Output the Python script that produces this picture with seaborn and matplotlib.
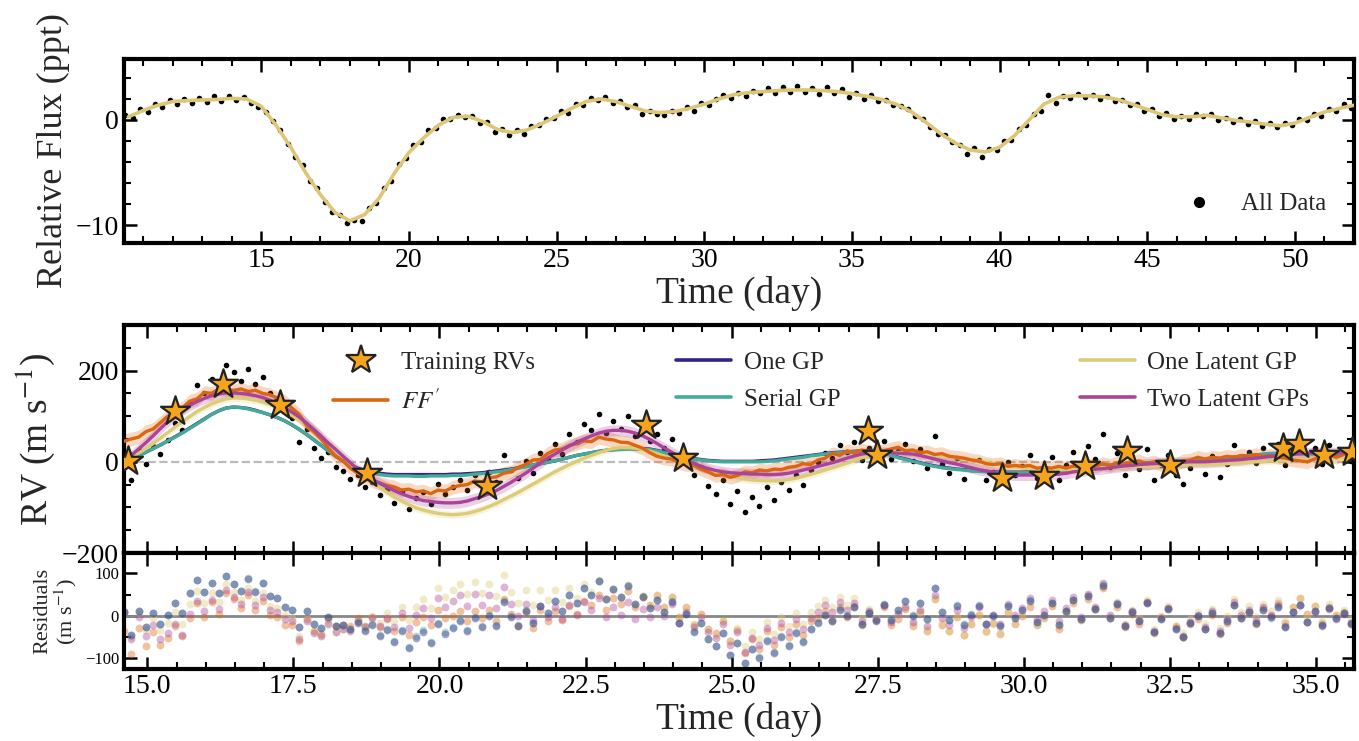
import numpy as np
import matplotlib
matplotlib.use("Agg")
import matplotlib.pyplot as plt
from matplotlib.ticker import MultipleLocator, FormatStrFormatter
from matplotlib.lines import Line2D
import seaborn as sns

# ---------------------------------------------------------------- data
# Photometry: relative flux (ppt), sampled every 0.25 d from day 10.4
flux_start, flux_step = 10.4, 0.25
flux_obs = [
    0.5, 0.2, 1.0, 0.8, 1.5, 1.2, 1.9, 1.5, 2.0, 1.6, 2.1, 1.7, 2.3, 1.8, 2.3, 1.9,
    2.2, 1.6, 1.2, 0.8, -0.1, -1.0, -2.3, -3.5, -4.3, -5.8, -6.5, -7.8, -8.8, -9.0, -9.8, -9.5,
    -9.6, -8.4, -7.9, -6.5, -5.8, -4.2, -3.6, -2.4, -2.1, -1.0, -0.8, 0.1, 0.1, 0.5, 0.3, 0.4,
    -0.3, -0.2, -1.1, -0.9, -1.4, -1.0, -1.3, -0.6, -0.5, 0.1, 0.2, 0.9, 0.7, 1.5, 1.4, 2.1,
    1.9, 2.2, 1.6, 1.8, 1.2, 1.4, 0.6, 0.9, 0.6, 0.5, 0.9, 0.7, 1.2, 0.9, 1.6, 1.4,
    2.0, 2.4, 2.1, 2.6, 2.3, 2.8, 2.6, 3.0, 2.6, 3.1, 2.7, 3.2, 2.7, 3.0, 2.5, 3.1,
    2.6, 2.9, 2.2, 2.6, 2.0, 2.4, 1.8, 1.9, 1.4, 1.3, 1.0, 0.4, 0.1, -0.7, -1.3, -1.4,
    -2.1, -2.4, -3.2, -2.7, -3.5, -2.8, -2.9, -2.0, -1.9, -0.9, -0.5, 0.6, 0.9, 2.4, 1.6, 2.3,
    2.1, 2.5, 2.2, 2.4, 2.0, 2.3, 1.8, 1.9, 1.4, 1.5, 0.9, 1.0, 0.4, 0.7, 0.1, 0.4,
    0.1, 0.6, 0.4, 0.6, 0.0, 0.2, -0.2, 0.1, -0.4, -0.1, -0.6, -0.3, -0.7, -0.3, -0.5, 0.1,
    0.0, 0.6, 0.4, 1.0, 0.9, 1.5, 1.1,
]
# Photometric GP prediction every 0.5 d from day 10.5
flux_model_start, flux_model_step = 10.5, 0.5
flux_model = [
    0.3, 0.9, 1.4, 1.75, 1.85, 1.9, 1.95, 2.05, 2.0, 1.3, -0.5, -2.6, -5.0, -7.1, -8.8, -9.6,
    -9.0, -7.4, -5.1, -3.1, -1.7, -0.5, 0.25, 0.35, -0.15, -0.9, -1.2, -0.95, -0.35, 0.35, 1.1, 1.75,
    2.0, 1.75, 1.3, 0.85, 0.7, 0.8, 1.1, 1.5, 2.0, 2.4, 2.6, 2.7, 2.8, 2.85, 2.85, 2.8,
    2.7, 2.5, 2.25, 1.95, 1.5, 0.8, -0.2, -1.3, -2.2, -2.85, -3.05, -2.6, -1.5, 0.0, 1.5, 2.15,
    2.3, 2.3, 2.2, 1.95, 1.5, 1.0, 0.5, 0.3, 0.3, 0.45, 0.2, -0.05, -0.2, -0.4, -0.55, -0.3,
    0.25, 0.75, 1.1, 1.4,
]

# Radial velocities (m/s), sampled every 0.125 d from day 14.6 (one row per day)
rv_start, rv_step = 14.6, 0.125
rv_obs = [
    10, -40, 25, -5, 35, 18, 48, 85,
    70, 128, 168, 150, 182, 165, 212, 196,
    178, 204, 170, 186, 150, 138, 112, 96,
    44, 72, 30, 8, 22, -12, -20, -38,
    -30, -55, -44, -72, -60, -90, -64, -104,
    -80, -66, -92, -48, -70, -56, -40, -62,
    -30, -50, -22, -44, 14, -18, -36, 2,
    -24, 20, 6, 38, 18, 60, 44, 82,
    70, 104, 64, 90, 72, 100, 56, 74,
    46, 62, 30, 50, -4, 14, -30, -12,
    -52, -70, -40, -92, -64, -110, -78, -96,
    -56, -84, -44, -62, -30, -50, -18, 0,
    20, 8, 36, 22, 44, 4, 30, 12,
    46, 6, 24, 40, 2, 28, -14, 56,
    -4, -24, 8, -38, -16, 4, -40, -22,
    -46, 0, -28, -10, 14, -36, -18, 10,
    -40, -6, 22, -22, 34, 6, 62, -12,
    20, -30, 4, -16, 28, -40, -8, 16,
    -30, -48, -14, 2, -26, 12, -34, -4,
    36, 8, 22, -2, 30, 14, 40, -8,
    26, 44, 4, 30, -4, 36, 12, 24,
    2,
]
rv_ffprime = [
    45, 50, 54, 66, 72, 86, 100, 108,
    118, 133, 138, 152, 150, 160, 158, 156,
    160, 154, 157, 150, 147, 140, 133, 118,
    104, 80, 66, 50, 30, 12, 2, -14,
    -25, -32, -42, -46, -52, -55, -62, -60,
    -66, -64, -70, -62, -64, -56, -52, -50,
    -42, -44, -35, -33, -25, -22, -12, -6,
    4, 5, 18, 26, 28, 36, 40, 46,
    44, 54, 50, 48, 43, 42, 36, 30,
    20, 12, 8, 6, -2, -6, -8, -16,
    -22, -30, -28, -34, -30, -22, -24, -18,
    -20, -16, -17, -12, -10, -4, -6, 4,
    8, 18, 14, 24, 20, 26, 22, 22,
    24, 28, 32, 24, 26, 20, 22, 16,
    18, 12, 10, 8, 4, 2, -4, -6,
    -4, -10, -8, -10, -8, -14, -12, -14,
    -10, -14, -9, -12, -6, -10, -4, -8,
    -2, -4, 0, 2, -4, 0, -6, -2,
    -6, 2, 4, 10, 6, 10, 8, 12,
    10, 14, 12, 16, 12, 14, 10, 8,
    4, 2, 0, 6, 12, 14, 10, 16,
    20,
]
rv_one_gp = [
    0, 6, 13, 21, 29, 37, 46, 55,
    64, 74, 84, 94, 104, 112, 118, 120,
    119, 117, 113, 108, 103, 97, 90, 81,
    71, 60, 48, 36, 24, 12, 2, -7,
    -14, -19, -22, -25, -27, -28, -28, -28,
    -28, -28, -28, -28, -28, -27, -27, -26,
    -25, -24, -22, -20, -18, -16, -13, -10,
    -7, -4, -1, 2, 6, 10, 14, 17,
    20, 23, 25, 27, 28, 29, 29, 29,
    28, 25, 21, 17, 13, 10, 7, 5,
    3, 2, 1, 1, 1, 1, 1, 2,
    3, 4, 6, 8, 10, 12, 14, 16,
    18, 20, 21, 22, 23, 24, 24, 23,
    20, 15, 10, 6, 2, -2, -6, -9,
    -12, -14, -16, -17, -19, -20, -21, -22,
    -23, -23, -23, -23, -22, -21, -20, -20,
    -19, -17, -15, -14, -12, -11, -9, -8,
    -7, -6, -5, -4, -3, -2, -1, 0,
    1, 1, 2, 3, 4, 5, 6, 8,
    10, 12, 13, 15, 16, 17, 18, 18,
    18, 18, 18, 18, 18, 18, 18, 18,
    18,
]
rv_serial_gp = [
    0, 6, 13, 21, 29, 37, 46, 54,
    63, 73, 83, 93, 104, 112, 118, 120,
    119, 116, 112, 108, 103, 97, 90, 81,
    71, 60, 48, 36, 24, 12, 2, -8,
    -16, -21, -25, -28, -30, -31, -31, -31,
    -32, -32, -31, -31, -31, -30, -30, -29,
    -27, -26, -24, -22, -20, -17, -14, -11,
    -7, -4, -1, 2, 6, 10, 14, 17,
    20, 23, 25, 26, 27, 28, 28, 28,
    27, 24, 20, 16, 12, 9, 6, 4,
    2, 1, 0, 0, 0, 0, 0, 0,
    1, 2, 4, 6, 8, 10, 13, 15,
    17, 19, 20, 21, 22, 23, 23, 22,
    19, 14, 9, 5, 1, -3, -7, -10,
    -13, -15, -17, -18, -20, -21, -22, -23,
    -24, -24, -24, -24, -23, -22, -21, -21,
    -20, -18, -16, -15, -13, -11, -10, -8,
    -7, -6, -5, -4, -3, -2, -1, 0,
    1, 1, 2, 3, 4, 5, 6, 8,
    10, 12, 14, 15, 17, 18, 18, 18,
    18, 18, 18, 18, 18, 18, 18, 18,
    18,
]
rv_one_latent = [
    0, 9, 19, 29, 40, 52, 64, 76,
    88, 99, 110, 119, 127, 133, 138, 140,
    140, 138, 135, 131, 126, 119, 111, 102,
    91, 79, 66, 53, 39, 25, 10, -4,
    -18, -31, -44, -56, -67, -77, -86, -94,
    -101, -106, -110, -113, -115, -116, -115, -113,
    -109, -104, -98, -91, -83, -75, -67, -58,
    -49, -40, -31, -22, -14, -6, 1, 8,
    14, 20, 25, 29, 31, 31, 30, 27,
    23, 18, 12, 6, 0, -5, -10, -15,
    -20, -24, -28, -32, -35, -38, -40, -41,
    -42, -42, -41, -39, -36, -32, -28, -23,
    -18, -13, -8, -3, 3, 9, 14, 17,
    19, 20, 20, 20, 19, 18, 17, 15,
    13, 11, 9, 7, 4, 2, -1, -4,
    -7, -9, -11, -13, -15, -16, -17, -17,
    -17, -17, -16, -15, -14, -13, -13, -12,
    -12, -11, -10, -10, -9, -9, -8, -8,
    -7, -7, -6, -6, -6, -5, -5, -4,
    -3, -2, -1, 0, 1, 2, 3, 4,
    5, 5, 6, 7, 8, 8, 9, 9,
    9,
]
rv_two_latent = [
    0, 14, 28, 42, 57, 73, 88, 103,
    114, 124, 132, 139, 145, 149, 151, 151,
    150, 148, 145, 141, 135, 128, 119, 109,
    98, 85, 71, 56, 41, 27, 12, -2,
    -17, -28, -38, -47, -55, -63, -70, -76,
    -81, -85, -87, -89, -90, -90, -89, -86,
    -81, -76, -70, -63, -54, -45, -35, -25,
    -14, -3, 8, 17, 26, 35, 43, 50,
    57, 63, 67, 69, 69, 67, 63, 57,
    49, 40, 30, 21, 12, 4, -3, -10,
    -15, -19, -22, -24, -25, -26, -27, -27,
    -28, -28, -27, -25, -22, -18, -14, -10,
    -6, -2, 3, 8, 13, 17, 19, 20,
    20, 20, 19, 18, 17, 14, 10, 6,
    2, -2, -5, -9, -13, -17, -20, -23,
    -26, -28, -29, -29, -29, -29, -29, -28,
    -27, -25, -22, -20, -18, -16, -15, -13,
    -11, -9, -8, -6, -5, -4, -3, -2,
    -1, -1, 0, 0, 0, 1, 2, 3,
    4, 5, 7, 8, 10, 12, 14, 16,
    17, 18, 19, 20, 20, 20, 20, 20,
    20,
]
# Half-widths of the predictive bands (m/s)
band_ffprime, band_one_latent, band_two_latent = 15, 8, 12

# Training RVs
train_time = [14.67, 15.47, 16.30, 17.27, 18.76, 20.81, 23.53, 24.16, 27.33, 27.48,
              29.62, 30.34, 31.05, 31.77, 32.51, 34.43, 34.71, 35.14, 35.62]
train_rv = [1, 112, 170, 124, -24, -53, 80, 9, 67, 16,
            -35, -31, -9, 23, -6, 31, 40, 16, 22]

model_names = [r"$FF'$", "One GP", "Serial GP", "One Latent GP", "Two Latent GPs"]
model_colors = ["#DD6512", "#332288", "#44AA99", "#DDCC77", "#AA4499"]

# ---------------------------------------------------------------- style
sns.set_theme(style="ticks")
plt.rcParams.update({
    "font.family": ["Liberation Serif", "DejaVu Serif"],
    "mathtext.fontset": "stix",
    "axes.linewidth": 3.0,
    "axes.edgecolor": "black",
    "axes.facecolor": "white",
    "xtick.direction": "in", "ytick.direction": "in",
    "xtick.top": True, "ytick.right": True,
    "xtick.major.size": 9, "ytick.major.size": 9,
    "xtick.minor.size": 5, "ytick.minor.size": 5,
    "xtick.major.width": 1.8, "ytick.major.width": 1.8,
    "xtick.minor.width": 1.5, "ytick.minor.width": 1.5,
    "xtick.minor.visible": True, "ytick.minor.visible": True,
    "xtick.color": "black", "ytick.color": "black",
    "xtick.labelsize": 20, "ytick.labelsize": 20,
})

flux_time = flux_start + flux_step * np.arange(len(flux_obs))
flux_model_time = flux_model_start + flux_model_step * np.arange(len(flux_model))
rv_time = rv_start + rv_step * np.arange(len(rv_obs))
rv_obs_arr = np.array(rv_obs, dtype=float)
models = [np.array(m, dtype=float) for m in
          (rv_ffprime, rv_one_gp, rv_serial_gp, rv_one_latent, rv_two_latent)]

fig = plt.figure(figsize=(13.59, 7.41), dpi=100)
ax_flux = fig.add_axes([0.0912, 0.6721, 0.9051, 0.2483])
ax_rv = fig.add_axes([0.0912, 0.2537, 0.9051, 0.3077])
ax_res = fig.add_axes([0.0912, 0.0972, 0.9051, 0.1565], sharex=ax_rv)

# ---------------------------------------------------------------- photometry
sns.scatterplot(x=flux_time, y=flux_obs, ax=ax_flux, color="black", s=16,
                linewidth=0, zorder=2, legend=False)
sns.lineplot(x=flux_model_time, y=flux_model, ax=ax_flux, color="#DDC676",
             lw=2.6, zorder=3, legend=False)
ax_flux.set_xlim(10.35, 52.0)
ax_flux.set_ylim(-11.7, 5.8)
ax_flux.xaxis.set_major_locator(MultipleLocator(5))
ax_flux.xaxis.set_minor_locator(MultipleLocator(1))
ax_flux.yaxis.set_major_locator(MultipleLocator(10))
ax_flux.yaxis.set_minor_locator(MultipleLocator(2))
ax_flux.set_xlabel("Time (day)", fontsize=27, labelpad=2)
ax_flux.set_ylabel("Relative Flux (ppt)", fontsize=26)
dot_handle = Line2D([], [], marker="o", ls="none", color="black", markersize=7)
ax_flux.legend([dot_handle], ["All Data"], loc="lower right", frameon=False,
               fontsize=18, handlelength=1.6, handletextpad=0.9,
               borderaxespad=0.7)

# ---------------------------------------------------------------- RVs
ax_rv.axhline(0, color="#BBBBBB", ls="--", lw=1.6, zorder=0)
sns.scatterplot(x=rv_time, y=rv_obs_arr, ax=ax_rv, color="black", s=16,
                linewidth=0, zorder=1, legend=False)
ff, one_gp, serial_gp, one_latent, two_latent = models
for curve, half, col in ((ff, band_ffprime, model_colors[0]),
                         (one_latent, band_one_latent, model_colors[3]),
                         (two_latent, band_two_latent, model_colors[4])):
    ax_rv.fill_between(rv_time, curve - half, curve + half, color=col,
                       alpha=0.25, linewidth=0, zorder=2)
for idx in (1, 2, 3, 0, 4):
    sns.lineplot(x=rv_time, y=models[idx], ax=ax_rv, color=model_colors[idx],
                 lw=2.4, zorder=3, legend=False)
sns.scatterplot(x=train_time, y=train_rv, ax=ax_rv, marker="*", s=480,
                color="#F7A41D", edgecolor="#222222", linewidth=1.6,
                zorder=5, legend=False)
ax_rv.set_xlim(14.6, 35.65)
ax_rv.set_ylim(-200, 300)
ax_rv.xaxis.set_major_locator(MultipleLocator(2.5))
ax_rv.xaxis.set_minor_locator(MultipleLocator(0.5))
ax_rv.yaxis.set_major_locator(MultipleLocator(200))
ax_rv.yaxis.set_minor_locator(MultipleLocator(50))
ax_rv.tick_params(labelbottom=False)
ax_rv.set_xlabel("")
ax_rv.set_ylabel(r"RV (m s$^{-1}$)", fontsize=27)

star_handle = Line2D([], [], marker="*", ls="none", markersize=22,
                     markerfacecolor="#F7A41D", markeredgecolor="#222222",
                     markeredgewidth=1.6)
line_handles = [Line2D([], [], color=c, lw=2.6) for c in model_colors]
leg_kw = dict(loc="upper left", frameon=False, fontsize=18, handlelength=2.2,
              handletextpad=0.5, borderpad=0, borderaxespad=0, labelspacing=0.6)
leg1 = ax_rv.legend([star_handle, line_handles[0]], ["Training RVs", model_names[0]],
                    bbox_to_anchor=(0.170, 0.885), **leg_kw)
ax_rv.add_artist(leg1)
leg2 = ax_rv.legend(line_handles[1:3], model_names[1:3],
                    bbox_to_anchor=(0.449, 0.885), **leg_kw)
ax_rv.add_artist(leg2)
ax_rv.legend(line_handles[3:5], model_names[3:5],
             bbox_to_anchor=(0.777, 0.885), **leg_kw)

# ---------------------------------------------------------------- residuals
ax_res.axhline(0, color="#888888", lw=2, zorder=1)
for idx in (0, 3, 4, 2, 1):
    sns.scatterplot(x=rv_time, y=rv_obs_arr - models[idx], ax=ax_res,
                    color=model_colors[idx], s=32, alpha=0.4, linewidth=0,
                    zorder=2, legend=False)
ax_res.set_ylim(-125, 148)
ax_res.yaxis.set_major_locator(MultipleLocator(100))
ax_res.yaxis.set_minor_locator(MultipleLocator(50))
ax_res.xaxis.set_major_formatter(FormatStrFormatter("%.1f"))
ax_res.tick_params(axis="y", labelsize=12)
ax_res.set_xlabel("Time (day)", fontsize=27, labelpad=2)
ax_res.set_ylabel("Residuals\n" + r"(m s$^{-1}$)", fontsize=16, linespacing=1.0)

fig.savefig("out.png", dpi=100)
